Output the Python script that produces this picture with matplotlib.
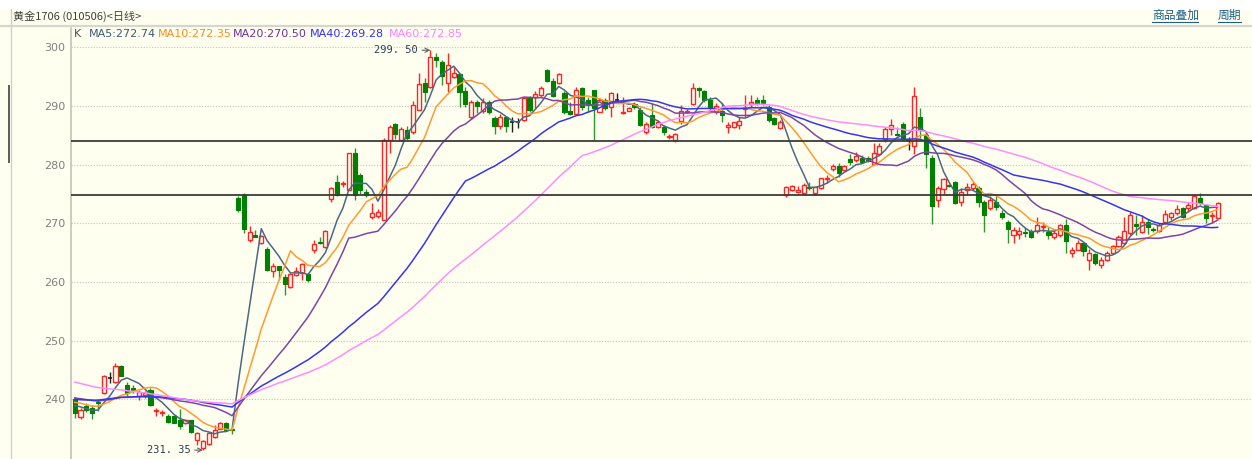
import numpy as np
import pandas as pd
import matplotlib
matplotlib.use('Agg')
import matplotlib.pyplot as plt
from matplotlib.patches import Rectangle
from matplotlib.lines import Line2D

plt.rcParams['font.family'] = ['DejaVu Sans', 'Noto Sans CJK SC']

# 日线行情 (读自图片)
open_ = [240.0, 237.0, 238.8, 238.6, 239.6, 241.0, 243.6, 243.0, 245.6, 242.4,
         241.9, 240.5, 240.8, 241.6, 238.0, 237.7, 237.1, 237.1, 236.4, 236.0,
         236.4, 233.1, 231.7, 232.4, 233.6, 235.0, 236.0, 235.0, 274.4, 274.8,
         267.1, 268.0, 266.6, 265.7, 261.9, 262.7, 260.9, 259.1, 261.2, 261.6,
         261.4, 265.4, 266.9, 265.9, 274.1, 277.1, 276.7, 275.7, 281.9, 278.3,
         275.3, 271.0, 271.2, 270.6, 284.2, 286.9, 284.2, 285.9, 285.6, 289.3,
         293.9, 293.2, 298.4, 297.5, 294.0, 294.9, 295.4, 292.6, 288.2, 290.6,
         289.2, 290.6, 288.0, 286.6, 288.1, 287.3, 287.2, 287.6, 291.4, 291.6,
         291.9, 296.1, 294.3, 293.9, 292.2, 289.2, 288.7, 293.0, 291.0, 292.7,
         289.0, 291.1, 289.9, 291.1, 288.8, 289.2, 290.3, 289.3, 285.6, 288.5,
         286.5, 286.5, 284.7, 284.2, 287.5, 288.9, 290.3, 293.0, 292.6, 291.1,
         289.0, 289.2, 286.4, 286.4, 286.8, 289.5, 290.3, 291.0, 291.0, 289.9,
         287.9, 286.2, 274.8, 275.6, 275.4, 275.2, 276.2, 275.1, 276.0, 277.6,
         279.2, 279.7, 279.1, 280.9, 280.8, 281.1, 281.2, 280.1, 281.8, 284.3,
         286.0, 285.3, 287.0, 284.2, 283.1, 288.1, 285.1, 281.1, 274.0, 275.8,
         276.6, 277.1, 273.7, 275.7, 276.0, 276.0, 273.7, 272.6, 273.7, 271.7,
         270.3, 268.0, 268.2, 268.5, 268.7, 268.7, 269.4, 268.6, 267.7, 268.0,
         269.7, 265.0, 265.5, 266.7, 263.7, 264.8, 262.9, 263.7, 264.9, 266.2,
         266.6, 268.4, 269.8, 268.6, 270.3, 269.0, 268.7, 270.3, 271.0, 271.7,
         272.6, 272.6, 272.6, 274.3, 273.1, 271.2, 270.9]
high = [240.4, 238.5, 239.3, 239.1, 240.1, 244.2, 244.7, 246.2, 245.9, 243.0,
        242.4, 241.6, 241.5, 241.9, 238.5, 238.2, 237.5, 237.4, 238.3, 236.6,
        236.5, 234.4, 233.0, 234.4, 235.6, 236.1, 236.1, 235.1, 274.6, 275.1,
        269.5, 268.9, 268.0, 266.0, 263.2, 262.8, 261.4, 261.6, 262.6, 263.2,
        261.6, 267.2, 267.7, 268.8, 276.2, 278.2, 277.2, 282.0, 282.9, 278.5,
        275.9, 273.4, 272.4, 284.6, 286.8, 287.1, 286.4, 286.6, 290.9, 295.6,
        294.7, 299.5, 299.1, 297.8, 299.1, 296.6, 295.7, 293.3, 291.0, 291.0,
        291.3, 291.1, 288.3, 288.6, 288.3, 288.1, 288.0, 291.5, 291.7, 292.5,
        293.4, 296.3, 294.7, 295.6, 292.6, 290.7, 293.3, 293.3, 291.6, 292.8,
        291.3, 291.3, 292.3, 292.2, 291.5, 289.9, 290.7, 289.9, 287.3, 290.5,
        287.6, 286.8, 285.2, 285.4, 290.2, 289.4, 293.9, 293.2, 292.8, 291.6,
        290.5, 290.5, 287.2, 287.3, 288.1, 291.9, 291.9, 291.5, 291.9, 290.2,
        288.2, 287.6, 276.3, 276.6, 276.3, 276.9, 277.1, 276.2, 277.8, 278.2,
        280.1, 280.2, 279.9, 281.8, 282.2, 281.6, 281.4, 283.7, 283.7, 286.5,
        287.7, 286.5, 287.2, 284.7, 293.2, 289.6, 285.6, 281.6, 276.4, 277.7,
        276.7, 277.2, 276.0, 276.9, 277.1, 276.3, 274.0, 274.7, 274.7, 272.3,
        270.5, 269.4, 269.4, 269.4, 269.0, 271.1, 270.3, 269.4, 268.9, 269.9,
        270.7, 266.0, 267.2, 266.8, 265.7, 265.0, 264.3, 265.2, 266.3, 268.0,
        271.0, 272.0, 271.4, 271.4, 270.7, 269.4, 270.0, 272.2, 272.0, 273.1,
        272.8, 273.7, 274.8, 275.1, 273.3, 271.9, 273.7]
low = [236.9, 236.6, 237.9, 236.6, 238.0, 240.9, 242.8, 242.7, 243.9, 240.5,
       241.1, 239.9, 240.2, 238.8, 237.2, 237.2, 236.0, 235.9, 235.0, 235.8,
       234.3, 232.2, 231.35, 232.2, 233.4, 234.9, 234.8, 234.1, 272.0, 268.3,
       266.9, 267.6, 266.4, 261.9, 260.9, 260.3, 257.8, 258.9, 261.0, 260.3,
       260.0, 265.0, 266.4, 265.8, 273.6, 274.6, 276.2, 275.6, 274.0, 275.0,
       274.5, 270.8, 270.9, 270.6, 281.9, 284.3, 284.1, 284.2, 285.3, 289.3,
       290.6, 293.0, 296.7, 293.6, 292.3, 294.7, 289.9, 289.9, 287.7, 288.8,
       288.8, 288.6, 285.2, 286.0, 285.6, 285.6, 286.3, 287.4, 289.0, 289.4,
       291.5, 294.1, 291.5, 293.8, 288.7, 288.5, 288.5, 289.3, 289.0, 284.2,
       288.9, 289.3, 288.1, 290.5, 288.6, 289.1, 289.4, 286.6, 285.3, 286.2,
       286.2, 285.1, 284.3, 283.9, 287.0, 288.8, 290.2, 291.6, 290.7, 289.2,
       288.7, 287.3, 285.4, 286.2, 286.0, 288.1, 289.9, 290.2, 290.2, 287.3,
       286.8, 286.0, 274.5, 275.5, 275.2, 274.8, 275.6, 274.9, 275.9, 276.8,
       279.0, 277.9, 279.0, 279.9, 280.5, 280.2, 280.5, 279.9, 281.6, 283.9,
       285.1, 284.8, 284.2, 282.5, 281.8, 284.5, 279.4, 269.9, 272.8, 274.8,
       276.2, 273.3, 273.0, 274.8, 275.7, 272.8, 268.6, 272.3, 272.3, 270.8,
       266.6, 266.6, 267.3, 267.7, 267.5, 268.3, 268.6, 267.4, 267.4, 267.7,
       264.9, 264.3, 265.4, 264.4, 262.0, 262.9, 262.3, 263.5, 264.7, 265.9,
       266.4, 268.0, 268.0, 268.3, 268.2, 268.6, 268.5, 269.9, 270.6, 271.5,
       270.9, 271.9, 272.5, 273.1, 270.0, 270.0, 270.8]
close = [237.6, 238.2, 238.2, 237.6, 239.3, 243.9, 243.6, 245.6, 244.0, 241.1,
         241.6, 241.3, 241.0, 239.0, 238.2, 237.9, 236.2, 236.0, 235.4, 236.4,
         234.4, 234.3, 232.9, 234.2, 234.8, 235.9, 234.8, 234.8, 272.2, 269.1,
         268.6, 267.7, 267.8, 262.0, 262.7, 262.0, 259.7, 261.4, 261.9, 263.0,
         260.3, 266.5, 266.6, 268.7, 276.0, 274.8, 276.9, 281.9, 274.8, 275.6,
         274.8, 271.7, 272.0, 284.2, 286.5, 285.2, 286.0, 284.6, 290.2, 293.7,
         292.3, 298.3, 297.8, 295.1, 297.0, 295.7, 292.4, 290.4, 290.6, 290.0,
         290.7, 289.0, 286.6, 288.1, 286.6, 287.3, 287.2, 291.3, 289.3, 292.1,
         293.0, 294.3, 291.7, 295.5, 289.0, 288.6, 292.8, 289.9, 290.2, 289.6,
         291.0, 289.6, 292.2, 291.1, 289.0, 289.6, 289.9, 286.8, 286.9, 286.5,
         287.2, 285.6, 284.9, 285.2, 289.2, 289.1, 293.0, 292.7, 291.1, 289.9,
         290.0, 288.5, 286.8, 287.2, 287.5, 289.7, 290.6, 290.4, 290.5, 287.6,
         286.9, 287.3, 276.2, 276.4, 275.6, 276.5, 276.0, 276.2, 277.7, 277.8,
         279.7, 278.6, 279.7, 280.5, 281.5, 280.5, 280.7, 282.0, 283.1, 286.0,
         286.8, 285.0, 284.3, 284.2, 291.7, 285.9, 281.8, 272.9, 276.0, 277.5,
         276.4, 273.5, 275.4, 276.2, 276.7, 273.7, 271.4, 274.0, 272.7, 271.0,
         269.1, 268.9, 268.7, 268.3, 267.7, 269.7, 269.6, 268.0, 268.4, 269.7,
         267.0, 265.5, 266.7, 265.2, 265.0, 263.3, 263.7, 264.9, 266.1, 267.7,
         268.7, 271.4, 269.6, 270.3, 269.4, 268.8, 269.7, 271.6, 271.8, 272.4,
         271.0, 273.1, 274.7, 273.4, 270.9, 271.4, 273.5]

# 图外的前59日收盘价 (只用于均线起点, 估计值)
prior_close = [253.0, 252.4, 251.8, 251.5, 250.6, 250.9, 250.2, 249.5, 249.8, 249.0,
               248.4, 248.7, 247.9, 247.2, 247.5, 246.8, 246.0, 245.6, 245.2, 244.6,
               241.0, 239.6, 238.8, 239.4, 238.5, 239.2, 240.1, 239.8, 239.4, 240.2,
               240.6, 240.0, 239.5, 239.1, 239.8, 240.4, 239.9, 239.2, 240.0, 240.5,
               240.8, 241.3, 240.6, 241.5, 240.9, 241.8, 241.2, 240.5, 241.0, 240.3,
               239.8, 240.6, 240.1, 239.5, 240.2, 239.3, 239.8, 239.1, 238.9]

ma_periods = [5, 10, 20, 40, 60]
ma_colors = ['#4a6885', '#ff9a30', '#7c45a8', '#3535f0', '#ff8cff']
ma_text_colors = ['#3c5a78', '#ff8a20', '#7030a0', '#3030ff', '#ff80ff']
ma_labels = ['MA5:272.74', 'MA10:272.35', 'MA20:270.50', 'MA40:269.28', 'MA60:272.85']
ma_label_x = [89, 158, 233, 310, 389]

hlines_levels = [284.1, 274.9]

bg = '#fffff0'
up_c = '#ff2424'
down_c = '#008000'

W, H = 1252, 459
fig = plt.figure(figsize=(W / 100, H / 100), dpi=100, facecolor=bg)

def fx(x):
    return x / W

def fy(y):
    return 1 - y / H

# 顶部白条和标题栏
fig.patches.append(Rectangle((0, fy(9)), 1, 9 / H, transform=fig.transFigure,
                             facecolor='white', edgecolor='none'))
fig.add_artist(Line2D([fx(0), fx(W)], [fy(26), fy(26)], color='#d6d6cc', lw=1.6))
fig.add_artist(Line2D([fx(11), fx(11)], [fy(9), fy(H)], color='#d0d0c8', lw=1.0))
fig.patches.append(Rectangle((fx(7.5), fy(163)), 2 / W, 78 / H, transform=fig.transFigure,
                             facecolor='#606060', edgecolor='none'))

fig.text(fx(13), fy(16), '黄金1706 (010506)<日线>', fontsize=8, color='#404040',
         va='center', ha='left', family=['Noto Sans CJK SC', 'DejaVu Sans'])
fig.text(fx(1152), fy(15.5), '商品叠加', fontsize=8.5, color='#1d5f8a',
         va='center', ha='left', family=['Noto Sans CJK SC', 'DejaVu Sans'])
fig.text(fx(1218), fy(15.5), '周期', fontsize=8.5, color='#1d5f8a',
         va='center', ha='left', family=['Noto Sans CJK SC', 'DejaVu Sans'])
fig.add_artist(Line2D([fx(1152), fx(1198)], [fy(21.5), fy(21.5)], color='#1d5f8a', lw=0.8))
fig.add_artist(Line2D([fx(1218), fx(1241)], [fy(21.5), fy(21.5)], color='#1d5f8a', lw=0.8))

# 主图
ax = fig.add_axes([fx(71), 0, fx(W - 71), (H - 28) / H])
ax.set_facecolor(bg)

o = np.array(open_)
h = np.array(high)
l = np.array(low)
c = np.array(close)
x = np.arange(len(c))
up = c > o + 0.05
down = c < o - 0.05
flat = ~(up | down)

ax.vlines(x[up], l[up], h[up], color=up_c, lw=1.0, zorder=2)
ax.vlines(x[down], l[down], h[down], color='#2e962e', lw=1.0, zorder=2)
ax.vlines(x[flat], l[flat], h[flat], color='#202020', lw=1.0, zorder=2)

bw = 0.7
ax.bar(x[up], (c - o)[up], bottom=o[up], width=bw, facecolor=bg,
       edgecolor=up_c, linewidth=1.0, zorder=3)
ax.bar(x[down], (o - c)[down], bottom=c[down], width=bw, facecolor=down_c,
       edgecolor=down_c, linewidth=0.8, zorder=3)
ax.hlines(c[flat], x[flat] - bw / 2, x[flat] + bw / 2, color='#202020', lw=1.2, zorder=3)

# 均线
all_close = pd.Series(prior_close + close)
n_prior = len(prior_close)
for p, col in zip(ma_periods, ma_colors):
    ma = all_close.rolling(p).mean().values[n_prior:]
    ax.plot(x, ma, color=col, lw=1.1, zorder=4)

for lv in hlines_levels:
    ax.axhline(lv, color='#3a3a3a', lw=1.3, zorder=5)

ax.set_xlim(-0.63, 201.9)
ax.set_ylim(229.83, 303.29)
ax.set_yticks([240, 250, 260, 270, 280, 290, 300])
ax.tick_params(axis='y', length=0, pad=4, labelsize=8, labelcolor='#808080')
ax.set_xticks([])
ax.grid(axis='y', color='#c4c4c4', linestyle=(0, (1, 1.5)), linewidth=0.8, zorder=1)
for s in ['top', 'right', 'bottom']:
    ax.spines[s].set_visible(False)
ax.spines['left'].set_color('#c8c8b8')
ax.spines['left'].set_linewidth(1.3)

# 最高/最低价标注
i_hi = int(np.argmax(h))
i_lo = int(np.argmin(l))
ax.annotate('299. 50', xy=(i_hi, h[i_hi]), xytext=(-9, 0), textcoords='offset points',
            ha='right', va='center', fontsize=7.5, color='#2c3e55', family='DejaVu Sans Mono',
            arrowprops=dict(arrowstyle='->', color='#606060', lw=0.8, shrinkA=1, shrinkB=0))
ax.annotate('231. 35', xy=(i_lo, l[i_lo]), xytext=(-9, 0), textcoords='offset points',
            ha='right', va='center', fontsize=7.5, color='#2c3e55', family='DejaVu Sans Mono',
            arrowprops=dict(arrowstyle='->', color='#606060', lw=0.8, shrinkA=1, shrinkB=0))

# 均线图例
fig.text(fx(74), fy(34), 'K', fontsize=8, color='#505050', va='center', ha='left')
for lab, col, xx in zip(ma_labels, ma_text_colors, ma_label_x):
    fig.text(fx(xx), fy(34), lab, fontsize=8, color=col, va='center', ha='left')

fig.savefig('out.png', dpi=100, facecolor=bg)
